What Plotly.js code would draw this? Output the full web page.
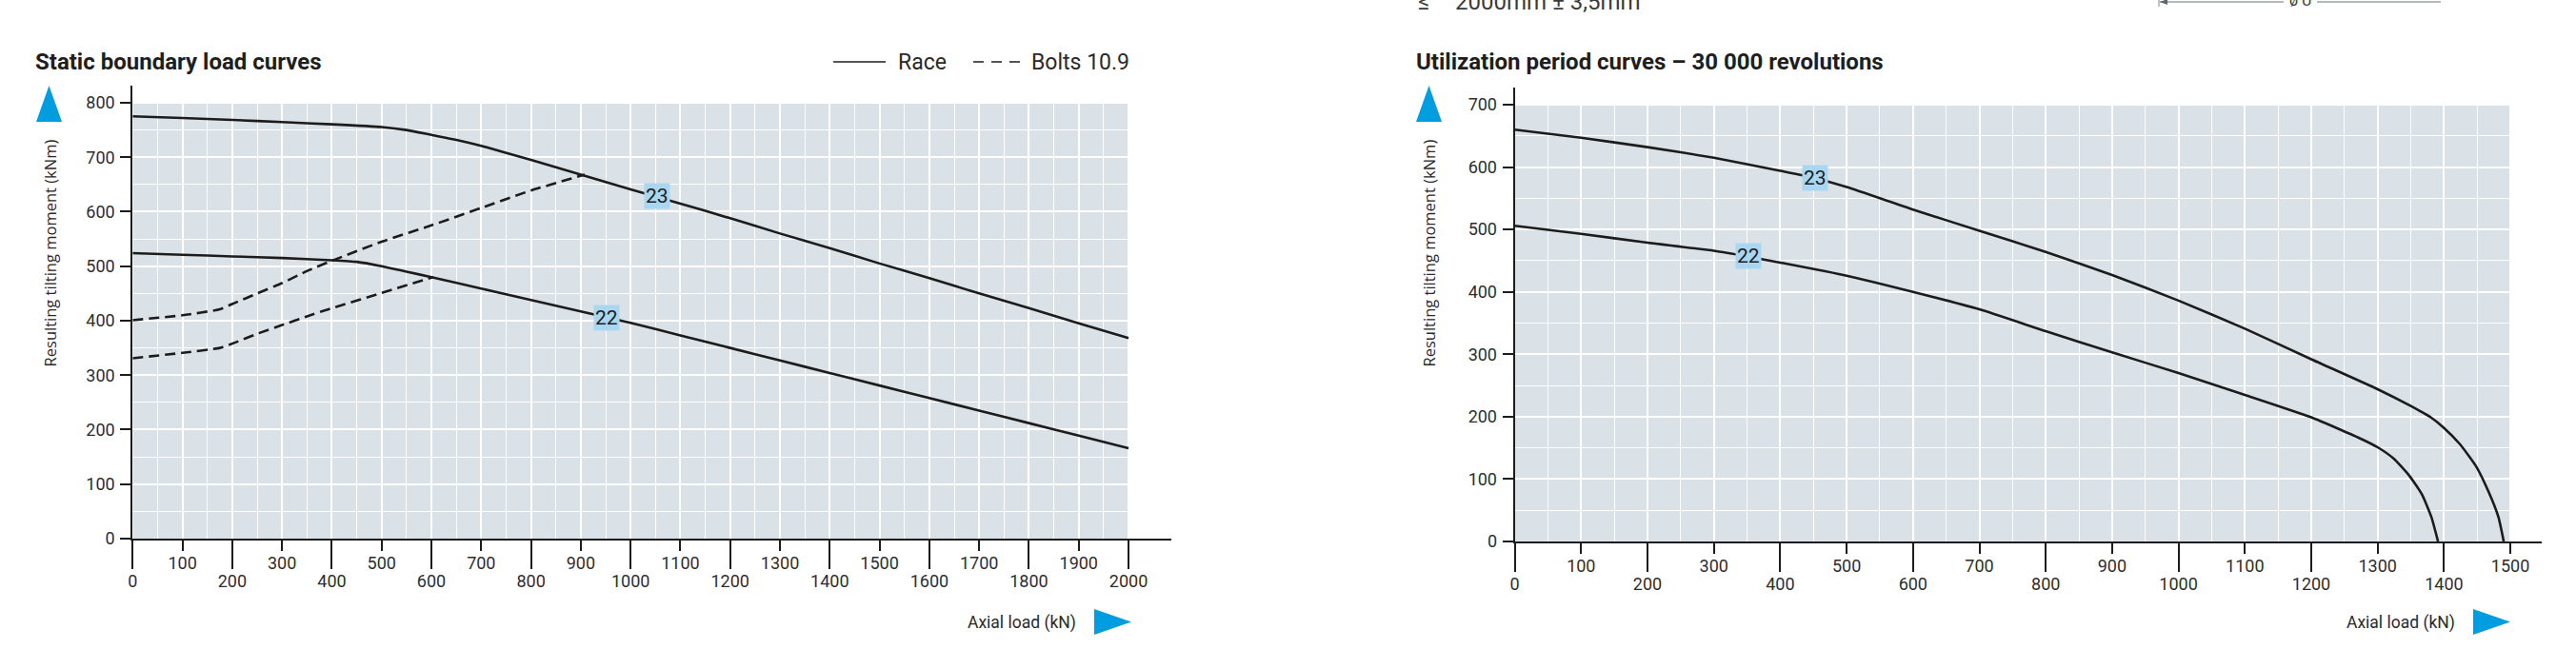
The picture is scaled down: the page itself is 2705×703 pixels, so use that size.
<!DOCTYPE html>
<html>
<head>
<meta charset="utf-8">
<script src="https://cdn.plot.ly/plotly-3.0.1.min.js"></script>
<style>
  html, body { margin: 0; padding: 0; background: #ffffff; }
  #chart { width: 2705px; height: 703px; }
</style>
</head>
<body>
<div id="chart"></div>
<script>
// ---------------- DATA ----------------
// Static boundary load curves (Axial load kN -> tilting moment kNm)
const staticRace23X = [0, 100, 200, 300, 400, 500, 550, 600, 650, 700, 800, 900, 1000, 1100, 1200, 1300, 1400, 1500, 1600, 1700, 1800, 1900, 2000];
const staticRace23Y = [775, 772, 768.5, 764.5, 760.5, 755.5, 750, 741, 732, 721, 695, 668, 641, 615, 588, 560, 533, 505, 478, 450, 423, 395, 368];
const staticRace22X = [0, 100, 200, 300, 400, 450, 500, 550, 600, 700, 800, 900, 1000, 1100, 1200, 1300, 1400, 1500, 1600, 1700, 1800, 1900, 2000];
const staticRace22Y = [524, 521, 518, 515, 511, 508, 500, 490, 480, 459, 438, 417, 396, 373, 350, 327, 304, 281, 258, 235, 212, 189, 166];
const staticBolts23X = [0, 100, 175, 206, 250, 300, 350, 400, 500, 600, 700, 800, 908];
const staticBolts23Y = [401, 410, 421, 433, 450, 469, 491, 510, 545, 575, 607, 639, 668];
const staticBolts22X = [0, 100, 175, 206, 250, 300, 350, 400, 500, 604];
const staticBolts22Y = [331, 341, 350, 360, 376, 392, 408, 423, 451, 480];

// Utilization period curves - 30 000 revolutions
const utilRace23X = [0, 100, 200, 300, 400, 450, 500, 600, 700, 800, 900, 1000, 1100, 1200, 1300, 1350, 1380, 1400, 1424, 1448, 1467, 1482, 1490];
const utilRace23Y = [660, 647, 632, 615, 594, 583, 568, 532, 498, 464, 427, 386, 341, 292, 244, 217, 199, 182, 156, 121, 80, 39, 0];
const utilRace22X = [0, 100, 200, 300, 350, 400, 500, 600, 700, 800, 900, 1000, 1100, 1200, 1276, 1300, 1324, 1348, 1367, 1381, 1391];
const utilRace22Y = [506, 493, 479, 466, 457, 447, 426, 400, 372, 337, 303, 270, 235, 199, 164, 151, 133, 105, 75, 39, 0];

// curve labels (text, x, y in data units)
const staticLabels = [["23", 1053, 629], ["22", 951, 406]];
const utilLabels = [["23", 453, 583], ["22", 352, 457]];

// tick labels
const staticXEven = [0, 200, 400, 600, 800, 1000, 1200, 1400, 1600, 1800, 2000];
const staticXOdd = [100, 300, 500, 700, 900, 1100, 1300, 1500, 1700, 1900];
const staticYTicks = [0, 100, 200, 300, 400, 500, 600, 700, 800];
const utilXEven = [0, 200, 400, 600, 800, 1000, 1200, 1400];
const utilXOdd = [100, 300, 500, 700, 900, 1100, 1300, 1500];
const utilYTicks = [0, 100, 200, 300, 400, 500, 600, 700];

// text
const titleStatic = "Static boundary load curves";
const titleUtil = "Utilization period curves \u2013 30 000 revolutions";
const yTitle = "Resulting tilting moment (kNm)";
const xTitle = "Axial load (kN)";
const legendRace = "Race";
const legendBolts = "Bolts 10.9";

// ---------------- HELPERS ----------------
const W = 2705, H = 703;
const PX = p => p / W;
const PY = p => 1 - p / H;
const oddHalves = (max) => { const a = []; for (let v = 50; v < max; v += 100) a.push(v); return a; };

const INK = '#1c1c1c';
const GRID_BG = '#dbe2e7';
const BLUE = '#009ee0';
const LABEL_BG = '#a9d7f1';
const FONT = 'Roboto, "Liberation Sans", sans-serif';

const curveLine = { color: INK, width: 2.6, shape: 'spline', smoothing: 0.5 };
const dashLine = { color: INK, width: 2.6, dash: '11px,6px', shape: 'spline', smoothing: 0.5 };

function tr(x, y, line, xa, ya) {
  return { x: x, y: y, type: 'scatter', mode: 'lines', line: line, xaxis: xa, yaxis: ya, hoverinfo: 'skip', showlegend: false };
}

// the odd-hundreds tick axes (x3, x4) overlay x / x2 with identical ranges
const data = [
  tr(staticRace23X, staticRace23Y, curveLine, 'x', 'y'),
  tr(staticRace22X, staticRace22Y, curveLine, 'x', 'y'),
  tr(staticBolts23X, staticBolts23Y, dashLine, 'x3', 'y'),
  tr(staticBolts22X, staticBolts22Y, dashLine, 'x3', 'y'),
  tr(utilRace23X, utilRace23Y, curveLine, 'x2', 'y2'),
  tr(utilRace22X, utilRace22Y, curveLine, 'x4', 'y2')
];

const tickFont = { family: FONT, size: 18, color: '#2e2e2e' };

function mainX(domain, range, vals, yId) {
  return {
    domain: domain, range: range, anchor: yId, tickmode: 'array', tickvals: vals, ticktext: vals.map(String),
    ticks: 'outside', ticklen: 30, tickwidth: 2, tickcolor: INK, ticklabelstandoff: -3,
    showline: true, linecolor: INK, linewidth: 2, zeroline: false,
    showgrid: true, gridcolor: '#ffffff', gridwidth: 2,
    minor: { tickmode: 'array', tickvals: oddHalves(range[1]), showgrid: true, gridcolor: '#ffffff', gridwidth: 1, ticks: '' },
    tickfont: tickFont, fixedrange: true
  };
}
function overlayX(over, range, vals, yId) {
  return {
    overlaying: over, anchor: yId, side: 'bottom', range: range, tickmode: 'array', tickvals: vals, ticktext: vals.map(String),
    ticks: 'outside', ticklen: 12, tickwidth: 2, tickcolor: INK, ticklabelstandoff: -3,
    showline: false, zeroline: false, showgrid: true, gridcolor: '#ffffff', gridwidth: 2,
    tickfont: tickFont, fixedrange: true
  };
}
function mainY(domain, range, vals, xId) {
  return {
    domain: domain, range: range, anchor: xId, tickmode: 'array', tickvals: vals, ticktext: vals.map(String),
    ticks: 'outside', ticklen: 11, tickwidth: 2, tickcolor: INK, ticklabelstandoff: 2,
    showline: true, linecolor: INK, linewidth: 2, zeroline: false,
    showgrid: true, gridcolor: '#ffffff', gridwidth: 2,
    minor: { tickmode: 'array', tickvals: oddHalves(vals[vals.length - 1]), showgrid: true, gridcolor: '#ffffff', gridwidth: 1, ticks: '' },
    tickfont: tickFont, fixedrange: true
  };
}

const annotations = [];
const shapes = [];

// grey plotting fields
shapes.push({ type: 'rect', xref: 'x', yref: 'y', x0: 0, x1: staticXEven[staticXEven.length - 1], y0: 0, y1: staticYTicks[staticYTicks.length - 1], fillcolor: GRID_BG, line: { width: 0 }, layer: 'below' });
shapes.push({ type: 'rect', xref: 'x2', yref: 'y2', x0: 0, x1: utilXOdd[utilXOdd.length - 1], y0: 0, y1: utilYTicks[utilYTicks.length - 1], fillcolor: GRID_BG, line: { width: 0 }, layer: 'below' });

// curve labels
staticLabels.forEach(l => annotations.push({ xref: 'x', yref: 'y', x: l[1], y: l[2], text: l[0], showarrow: false, bgcolor: LABEL_BG, borderpad: 1, font: { family: FONT, size: 21, color: '#1e1e1e' } }));
utilLabels.forEach(l => annotations.push({ xref: 'x2', yref: 'y2', x: l[1], y: l[2], text: l[0], showarrow: false, bgcolor: LABEL_BG, borderpad: 1, font: { family: FONT, size: 21, color: '#1e1e1e' } }));

// titles
annotations.push({ xref: 'paper', yref: 'paper', x: PX(35), y: PY(65), xanchor: 'left', yanchor: 'middle', text: '<b>' + titleStatic + '</b>', showarrow: false, font: { family: FONT, size: 24, color: '#1e1e1e' } });
annotations.push({ xref: 'paper', yref: 'paper', x: PX(1485), y: PY(65), xanchor: 'left', yanchor: 'middle', text: '<b>' + titleUtil + '</b>', showarrow: false, font: { family: FONT, size: 24, color: '#1e1e1e' } });

// legend (static chart)
shapes.push({ type: 'line', xref: 'paper', yref: 'paper', x0: PX(875), x1: PX(930), y0: PY(65), y1: PY(65), line: { color: INK, width: 1.6 } });
annotations.push({ xref: 'paper', yref: 'paper', x: PX(941), y: PY(65), xanchor: 'left', yanchor: 'middle', text: legendRace, showarrow: false, font: { family: FONT, size: 23, color: '#2a2a2a' } });
shapes.push({ type: 'line', xref: 'paper', yref: 'paper', x0: PX(1022), x1: PX(1071), y0: PY(65), y1: PY(65), line: { color: INK, width: 1.6, dash: '11px,8px' } });
annotations.push({ xref: 'paper', yref: 'paper', x: PX(1081), y: PY(65), xanchor: 'left', yanchor: 'middle', text: legendBolts, showarrow: false, font: { family: FONT, size: 23, color: '#2a2a2a' } });

// axis titles
[[52.4, 266], [1499.5, 266]].forEach(p => annotations.push({ xref: 'paper', yref: 'paper', x: PX(p[0]), y: PY(p[1]), xanchor: 'center', yanchor: 'middle', textangle: -90, text: yTitle, showarrow: false, font: { family: '"Open Sans", sans-serif', size: 16.5, color: '#2a2a2a' } }));
[[1132, 654], [2580, 654]].forEach(p => annotations.push({ xref: 'paper', yref: 'paper', x: PX(p[0]), y: PY(p[1]), xanchor: 'right', yanchor: 'middle', text: xTitle, showarrow: false, font: { family: FONT, size: 17.5, color: '#2a2a2a' } }));

// blue arrow triangles
function tri(pts) {
  return { type: 'path', xref: 'paper', yref: 'paper', path: 'M' + pts.map(p => PX(p[0]) + ',' + PY(p[1])).join(' L') + ' Z', fillcolor: BLUE, line: { width: 0 } };
}
shapes.push(tri([[38, 128], [65, 128], [51.5, 90]]));
shapes.push(tri([[1487, 128], [1514, 128], [1500.5, 90]]));
shapes.push(tri([[1149, 640], [1149, 667], [1188, 653.5]]));
shapes.push(tri([[2597, 640], [2597, 667], [2636, 653.5]]));

// cropped header fragments from the page above
annotations.push({ xref: 'paper', yref: 'paper', x: PX(1487), y: PY(2), xanchor: 'left', yanchor: 'middle', text: '\u2264', showarrow: false, font: { family: FONT, size: 24, color: '#3a3a3a' } });
annotations.push({ xref: 'paper', yref: 'paper', x: PX(1526), y: PY(2), xanchor: 'left', yanchor: 'middle', text: '2000mm \u00b1 3,5mm', showarrow: false, font: { family: FONT, size: 24, color: '#3a3a3a' } });
annotations.push({ xref: 'paper', yref: 'paper', x: PX(2415), y: PY(0), xanchor: 'center', yanchor: 'middle', text: '\u00f8 U', showarrow: false, font: { family: FONT, size: 16, color: '#3a3a3a' } });
shapes.push({ type: 'line', xref: 'paper', yref: 'paper', x0: PX(2268), x1: PX(2398), y0: PY(2), y1: PY(2), line: { color: '#9aa3aa', width: 1.5 } });
shapes.push({ type: 'line', xref: 'paper', yref: 'paper', x0: PX(2433), x1: PX(2563), y0: PY(2), y1: PY(2), line: { color: '#9aa3aa', width: 1.5 } });
shapes.push({ type: 'line', xref: 'paper', yref: 'paper', x0: PX(2267), x1: PX(2267), y0: PY(0), y1: PY(7), line: { color: '#7d868d', width: 1 } });
shapes.push({ type: 'path', xref: 'paper', yref: 'paper', path: 'M' + PX(2268) + ',' + PY(2) + ' L' + PX(2276) + ',' + PY(-1) + ' L' + PX(2276) + ',' + PY(5) + ' Z', fillcolor: '#5d666d', line: { width: 0 } });

const layout = {
  width: W, height: H,
  margin: { l: 0, r: 0, t: 0, b: 0, pad: 0 },
  paper_bgcolor: '#ffffff', plot_bgcolor: 'rgba(0,0,0,0)',
  showlegend: false,
  font: { family: FONT, color: '#2a2a2a' },
  xaxis: mainX([PX(139.3), PX(1230)], [0, 2086], staticXEven, 'y'),
  xaxis3: overlayX('x', [0, 2086], staticXOdd, 'y'),
  yaxis: mainY([PY(566), PY(90)], [0, 831.4], staticYTicks, 'x'),
  xaxis2: mainX([PX(1590.6), PX(2669)], [0, 1547.2], utilXEven, 'y2'),
  xaxis4: overlayX('x2', [0, 1547.2], utilXOdd, 'y2'),
  yaxis2: mainY([PY(569), PY(92)], [0, 727.5], utilYTicks, 'x2'),
  shapes: shapes,
  annotations: annotations
};

Plotly.newPlot('chart', data, layout, { displayModeBar: false, staticPlot: true });
</script>
</body>
</html>
